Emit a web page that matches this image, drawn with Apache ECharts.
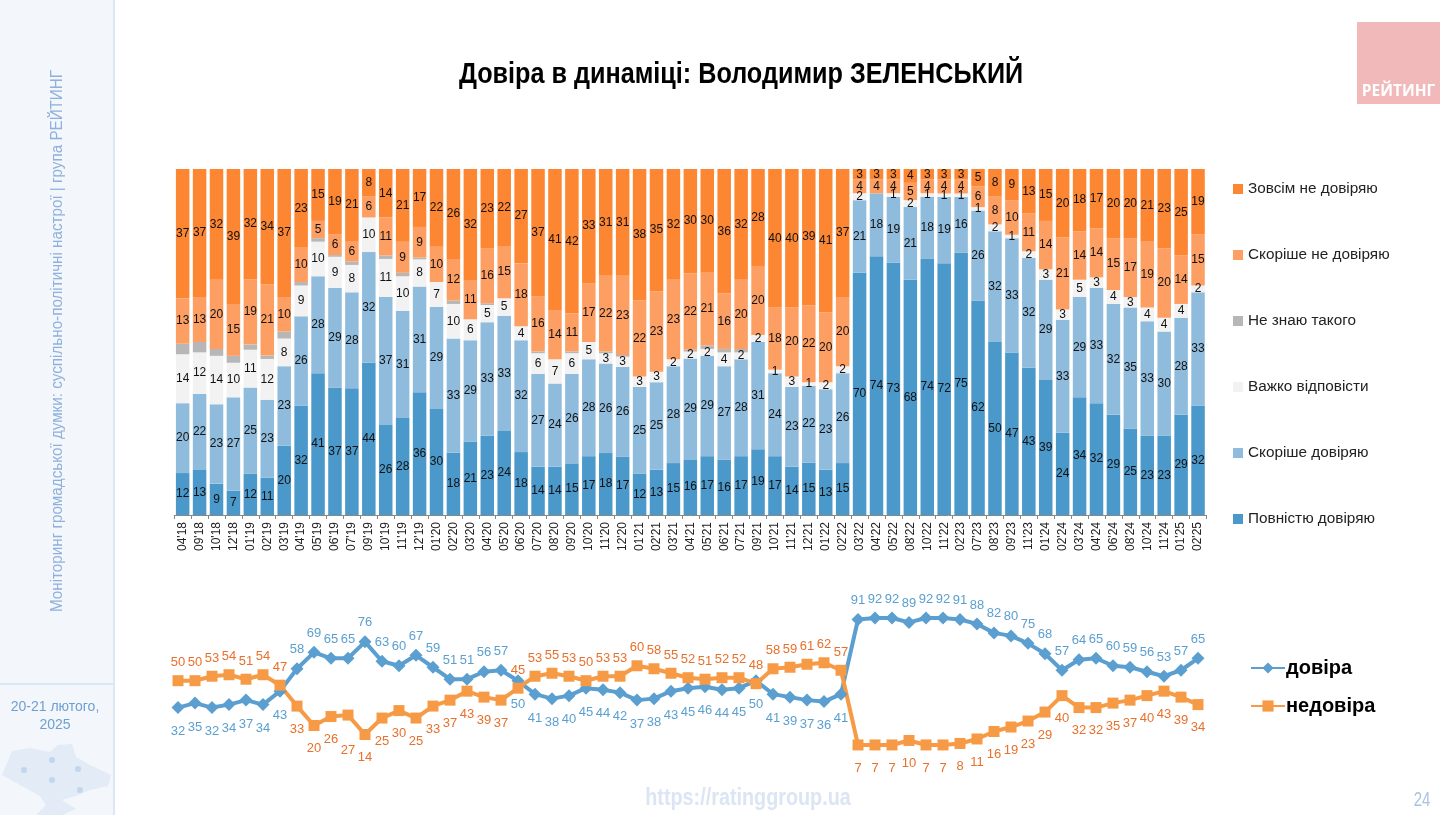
<!DOCTYPE html>
<html><head><meta charset="utf-8">
<style>html,body{margin:0;padding:0;background:#fff}#c{width:1456px;height:815px}</style>
<script src="https://cdn.jsdelivr.net/npm/echarts@6/dist/echarts.min.js"></script>
</head><body><div id="c"></div>
<script>
const categories = ["04'18","09'18","10'18","12'18","01'19","02'19","03'19","04'19","05'19","06'19","07'19","09'19","10'19","11'19","12'19","01'20","02'20","03'20","04'20","05'20","06'20",
"07'20","08'20","09'20","10'20","11'20","12'20","01'21","02'21","03'21","04'21","05'21","06'21","07'21","09'21","10'21","11'21","12'21","01'22","02'22",
"03'22","04'22","05'22","08'22","10'22","11'22","02'23","07'23","08'23","09'23","11'23","01'24","02'24","03'24","04'24","06'24","08'24","10'24","11'24","01'25","02'25"];
const fullTrust = [12,13,9,7,12,11,20,32,41,37,37,44,26,28,36,30,18,21,23,24,18,
14,14,15,17,18,17,12,13,15,16,17,16,17,19,17,14,15,13,15,
70,74,73,68,74,72,75,62,50,47,43,39,24,34,32,29,25,23,23,29,32];
const ratherTrust = [20,22,23,27,25,23,23,26,28,29,28,32,37,31,31,29,33,29,33,33,32,
27,24,26,28,26,26,25,25,28,29,29,27,28,31,24,23,22,23,26,
21,18,19,21,18,19,16,26,32,33,32,29,33,29,33,32,35,33,30,28,33];
const hardToSay = [14,12,14,10,11,12,8,9,10,9,8,10,11,10,8,7,10,6,5,5,4,
6,7,6,5,3,3,3,3,2,2,2,4,2,2,1,3,1,2,2,
2,0,1,2,1,1,1,1,2,1,2,3,3,5,3,4,3,4,4,4,2];
const dontKnow = [3,3,2,2,1.5,1,2,1,1,0.5,1,0,1,1,0.5,0,1,0,0.5,0,0,
0.5,0,0.5,0,0.5,0.5,0,0,0,0.5,1,1,1,0,0,0,0,0,0,
0,0,0,0,0,0,0,0,0,0,0,0,0,0,0,0,0,0,0,0,0];
const ratherNot = [13,13,20,15,19,21,10,10,5,6,6,6,11,9,9,10,12,11,16,15,18,
16,14,11,17,22,23,22,23,23,22,21,16,20,20,18,20,22,20,20,
4,4,4,5,4,4,4,6,8,10,11,14,21,14,14,15,17,19,20,14,15];
const notAtAll = [37,37,32,39,32,34,37,23,15,19,21,8,14,21,17,22,26,32,23,22,27,
37,41,42,33,31,31,38,35,32,30,30,36,32,28,40,40,39,41,37,
3,3,3,4,3,3,3,5,8,9,13,15,20,18,17,20,20,21,23,25,19];
const trust = [32,35,32,34,37,34,43,58,69,65,65,76,63,60,67,59,51,51,56,57,50,
41,38,40,45,44,42,37,38,43,45,46,44,45,50,41,39,37,36,41,
91,92,92,89,92,92,91,88,82,80,75,68,57,64,65,60,59,56,53,57,65];
const distrust = [50,50,53,54,51,54,47,33,20,26,27,14,25,30,25,33,37,43,39,37,45,
53,55,53,50,53,53,60,58,55,52,51,52,52,48,58,59,61,62,57,
7,7,7,10,7,7,8,11,16,19,23,29,40,32,32,35,37,40,43,39,34];

const SANS = '"Liberation Sans",sans-serif';
const stacks = [
  ['Повністю довіряю', fullTrust, '#4b98ca', true],
  ['Скоріше довіряю', ratherTrust, '#8fbcdd', true],
  ['Важко відповісти', hardToSay, '#f2f2f2', true],
  ['Не знаю такого', dontKnow, '#b7b7b7', false],
  ['Скоріше не довіряю', ratherNot, '#fd9f63', true],
  ['Зовсім не довіряю', notAtAll, '#fd8632', true]
];
const totals = categories.map((_, i) => stacks.reduce((s, r) => s + r[1][i], 0));

const barSeries = stacks.map(([name, arr, color, lab]) => ({
  name, type: 'bar', stack: 'all', xAxisIndex: 0, yAxisIndex: 0, barWidth: 13.5,
  data: arr.map((v, i) => v / totals[i] * 100),
  itemStyle: { color },
  label: { show: lab, position: 'inside', color: '#111', fontFamily: SANS, fontSize: 12,
    formatter: p => arr[p.dataIndex] > 0 ? String(arr[p.dataIndex]) : '' }
}));

// label placement quirks of the original slide
const trustBelow = i => i <= 6 || (i >= 20 && i <= 39);
const distrustExtra = { 10: 12 };

const lineSeries = [
  { name: 'довіра', arr: trust, color: '#5b9fd0', text: '#5b9fd0', symbol: 'diamond', size: 13,
    below: trustBelow, extra: {} },
  { name: 'недовіра', arr: distrust, color: '#f79a46', text: '#e8702a', symbol: 'rect', size: 11,
    below: i => !trustBelow(i), extra: distrustExtra }
].map(s => ({
  name: s.name, type: 'line', xAxisIndex: 1, yAxisIndex: 1, symbol: s.symbol, symbolSize: s.size,
  showAllSymbol: true,
  lineStyle: { color: s.color, width: 4 }, itemStyle: { color: s.color }, z: 3,
  data: s.arr.map((v, i) => ({
    value: v,
    label: { position: s.below(i) ? 'bottom' : 'top', offset: [0, (s.below(i) ? 3 : 2) + (s.extra[i] || 0)] }
  })),
  label: { show: true, color: s.text, fontFamily: SANS, fontSize: 13, distance: 8 }
}));

const panel = '#f3f7fc', panelLine = '#dce7f5';
const dots = [[24,770],[52,760],[78,769],[52,780],[80,790]];
const graphic = [
  { type: 'rect', z: -10, shape: { x: 0, y: 0, width: 114, height: 815 }, style: { fill: panel } },
  { type: 'rect', z: -9, shape: { x: 113, y: 0, width: 2, height: 815 }, style: { fill: panelLine } },
  { type: 'rect', z: -9, shape: { x: 0, y: 683, width: 114, height: 2 }, style: { fill: panelLine } },
  { type: 'polygon', z: -8, shape: { points: [[2,775],[12,751],[30,748],[50,752],[58,745],[72,744],[76,757],[90,765],[111,775],[108,786],[90,790],[76,796],[62,800],[76,809],[62,815],[36,815],[46,805],[40,796],[20,785]] }, style: { fill: '#e2ebf6' } },
  ...dots.map(([x, y]) => ({ type: 'circle', z: -7, shape: { cx: x, cy: y, r: 3 }, style: { fill: '#c2d7ed' } })),
  { type: 'text', x: 741, y: 75, scaleX: 0.84, style: { text: 'Довіра в динаміці: Володимир ЗЕЛЕНСЬКИЙ', fill: '#000', font: 'bold 30px ' + SANS, textAlign: 'center', textVerticalAlign: 'middle' } },
  { type: 'text', x: 58, y: 341, rotation: Math.PI / 2, scaleX: 0.95, style: { text: 'Моніторинг громадської думки: суспільно-політичні настрої | група РЕЙТИНГ', fill: '#8fb0dc', font: '16px ' + SANS, textAlign: 'center', textVerticalAlign: 'middle' } },
  { type: 'text', x: 55, y: 716, style: { text: '20-21 лютого,\n2025', fill: '#6f9fd0', font: '14px ' + SANS, textAlign: 'center', textVerticalAlign: 'middle', lineHeight: 18 } },
  { type: 'rect', shape: { x: 1357, y: 22, width: 83, height: 82 }, style: { fill: '#f2b9bb' } },
  { type: 'text', x: 1398.5, y: 92, style: { text: 'РЕЙТИНГ', fill: '#fff', font: 'bold 15.5px "Open Sans",sans-serif', textAlign: 'center', textVerticalAlign: 'middle' } },
  { type: 'text', x: 748, y: 799, scaleX: 0.86, style: { text: 'https://ratinggroup.ua', fill: '#dbe5f4', font: 'bold 23px ' + SANS, textAlign: 'center', textVerticalAlign: 'middle' } },
  { type: 'text', x: 1422, y: 800, scaleX: 0.75, style: { text: '24', fill: '#a9c2e2', font: '20px ' + SANS, textAlign: 'center', textVerticalAlign: 'middle' } }
];

const chart = echarts.init(document.getElementById('c'), null, { renderer: 'canvas' });
chart.setOption({
  animation: false,
  backgroundColor: '#fff',
  grid: [
    { left: 174.2, top: 169, width: 1032.3, height: 346 },
    { left: 169.5, top: 606, width: 1037, height: 149.4 }
  ],
  xAxis: [
    { type: 'category', gridIndex: 0, data: categories,
      axisLine: { lineStyle: { color: '#888' } }, axisTick: { show: true, length: 4, lineStyle: { color: '#888' } },
      axisLabel: { interval: 0, rotate: 90, color: '#222', fontFamily: SANS, fontSize: 12, margin: 7 } },
    { type: 'category', gridIndex: 1, data: categories, show: false }
  ],
  yAxis: [
    { type: 'value', gridIndex: 0, min: 0, max: 100, show: false },
    { type: 'value', gridIndex: 1, min: 0, max: 100, show: false }
  ],
  legend: [
    { orient: 'vertical', left: 1228, top: 174, itemWidth: 10, itemHeight: 10, itemGap: 46, icon: 'rect',
      data: ['Зовсім не довіряю','Скоріше не довіряю','Не знаю такого','Важко відповісти','Скоріше довіряю','Повністю довіряю'],
      textStyle: { fontFamily: SANS, fontSize: 15.3, color: '#222', height: 20, lineHeight: 20 } },
    { orient: 'vertical', left: 1245, top: 651, itemWidth: 34, itemHeight: 14, itemGap: 14,
      data: ['довіра','недовіра'],
      textStyle: { fontFamily: SANS, fontSize: 20, fontWeight: 'bold', color: '#000', padding: [0,0,0,-4], height: 24, lineHeight: 24 } }
  ],
  graphic,
  series: barSeries.concat(lineSeries)
});
</script></body></html>
